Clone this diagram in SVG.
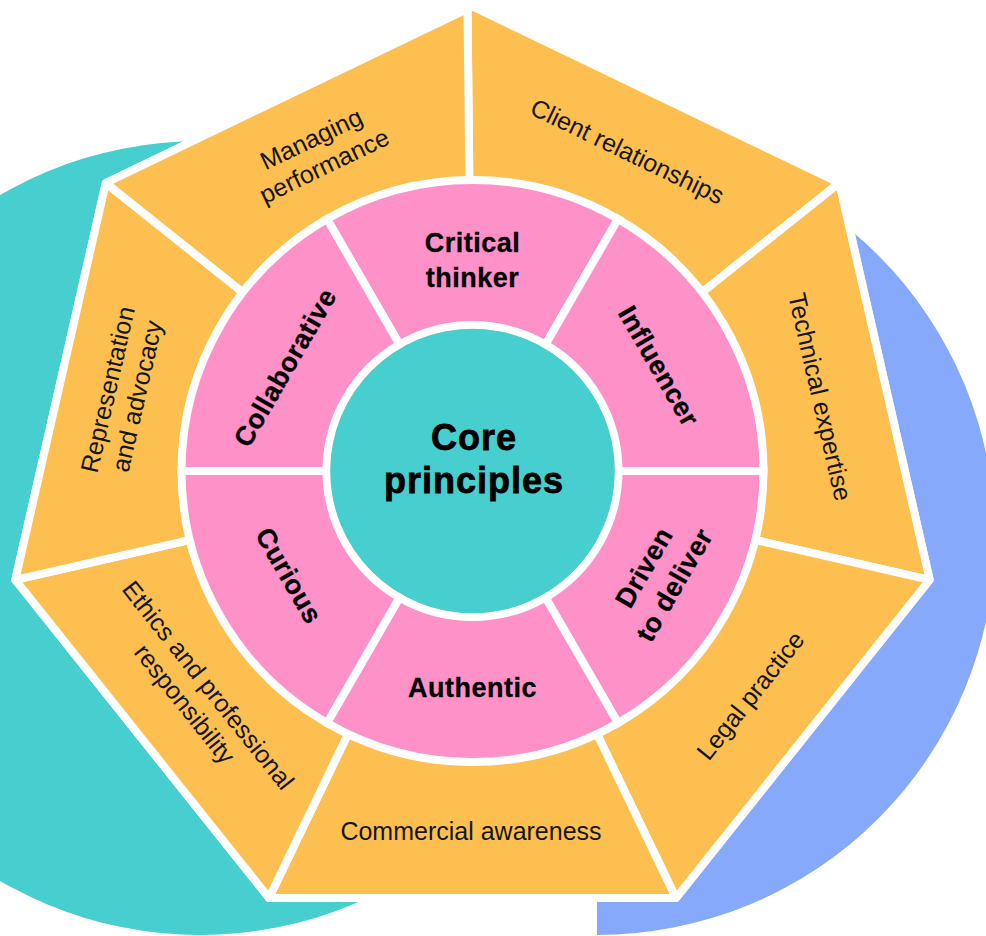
<svg xmlns="http://www.w3.org/2000/svg" width="986" height="936" viewBox="0 0 986 936">
  <style>
    .seg { fill: #FDBF50; stroke: #ffffff; stroke-width: 8; stroke-linejoin: miter; stroke-miterlimit: 1.5; }
    .petal { fill: #FF91C9; stroke: #ffffff; stroke-width: 8; stroke-linejoin: miter; }
    .lbl { font-family: "Liberation Sans", Arial, sans-serif; font-size: 25px; fill: #161616; text-anchor: middle; }
    .bold { font-family: "Liberation Sans", Arial, sans-serif; font-weight: 700; font-size: 27px; fill: #000000; text-anchor: middle; letter-spacing: 0.5px; stroke: #000000; stroke-width: 0.3px; }
    .core { font-family: "Liberation Sans", Arial, sans-serif; font-weight: 700; font-size: 36px; fill: #000000; text-anchor: middle; letter-spacing: 1px; stroke: #000000; stroke-width: 0.8px; }
  </style>

  <!-- backdrop shapes -->
  <g id="backdrop">
    <circle cx="200" cy="538" r="397" fill="#47CFCF"/>
    <path d="M597,139 A398,398 0 0 1 597,935 Z" fill="#87A9FB"/>
  </g>

  <!-- white outline of the heptagon -->
  <polygon id="outline" points="472.5,6.4 839.2,183 929.7,579.8 676,898 269,898 15.3,579.8 105.8,183" fill="#ffffff" stroke="#ffffff" stroke-width="8" stroke-linejoin="miter"/>

  <!-- outer competency segments -->
  <g id="client-relationships">
    <polygon class="seg" points="472.5,475.4 467.5,8.8 472.5,6.4 839.2,183"/>
    <text class="lbl" transform="translate(627,152) rotate(25.71)" y="8">Client relationships</text>
  </g>
  <g id="technical-expertise">
    <polygon class="seg" points="472.5,475.4 839.2,183 929.7,579.8"/>
    <text class="lbl" transform="translate(819.5,397) rotate(77.14)" y="8">Technical expertise</text>
  </g>
  <g id="legal-practice">
    <polygon class="seg" points="472.5,475.4 929.7,579.8 676,898"/>
    <text class="lbl" transform="translate(751,696) rotate(-51.43)" y="8">Legal practice</text>
  </g>
  <g id="commercial-awareness">
    <polygon class="seg" points="472.5,475.4 676,898 269,898"/>
    <text class="lbl" x="471" y="840">Commercial awareness</text>
  </g>
  <g id="ethics">
    <polygon class="seg" points="472.5,475.4 269,898 15.3,579.8"/>
    <text class="lbl" transform="translate(196,695) rotate(51.43)"><tspan x="0" y="-7">Ethics and professional</tspan><tspan x="0" y="23">responsibility</tspan></text>
  </g>
  <g id="representation">
    <polygon class="seg" points="472.5,475.4 15.3,579.8 105.8,183"/>
    <text class="lbl" transform="translate(123,393) rotate(-77.14)"><tspan x="0" y="-7">Representation</tspan><tspan x="0" y="23">and advocacy</tspan></text>
  </g>
  <g id="managing-performance">
    <polygon class="seg" points="472.5,475.4 105.8,183 467.5,8.8"/>
    <text class="lbl" transform="translate(318,153) rotate(-25.71)"><tspan x="0" y="-7">Managing</tspan><tspan x="0" y="23">performance</tspan></text>
  </g>

  <!-- inner ring of behaviours -->
  <g id="critical-thinker">
    <path class="petal" d="M327,218.98 A291,291 0 0 1 618,218.98 L545.5,344.56 A146,146 0 0 0 399.5,344.56 Z"/>
    <text class="bold"><tspan x="472.5" y="252">Critical</tspan><tspan x="472.5" y="287">thinker</tspan></text>
  </g>
  <g id="influencer">
    <path class="petal" d="M618,218.98 A291,291 0 0 1 763.5,471 L618.5,471 A146,146 0 0 0 545.5,344.56 Z"/>
    <text class="bold" transform="translate(659,366) rotate(60)" y="9.5">Influencer</text>
  </g>
  <g id="driven-to-deliver">
    <path class="petal" d="M763.5,471 A291,291 0 0 1 618,723.02 L545.5,597.44 A146,146 0 0 0 618.5,471 Z"/>
    <text class="bold" transform="translate(659,576) rotate(-60)"><tspan x="0" y="-8">Driven</tspan><tspan x="0" y="27">to deliver</tspan></text>
  </g>
  <g id="authentic">
    <path class="petal" d="M618,723.02 A291,291 0 0 1 327,723.02 L399.5,597.44 A146,146 0 0 0 545.5,597.44 Z"/>
    <text class="bold" x="472.5" y="697">Authentic</text>
  </g>
  <g id="curious">
    <path class="petal" d="M327,723.02 A291,291 0 0 1 181.5,471 L326.5,471 A146,146 0 0 0 399.5,597.44 Z"/>
    <text class="bold" transform="translate(289,575.5) rotate(60)" y="9.5">Curious</text>
  </g>
  <g id="collaborative">
    <path class="petal" d="M181.5,471 A291,291 0 0 1 327,218.98 L399.5,344.56 A146,146 0 0 0 326.5,471 Z"/>
    <text class="bold" transform="translate(285,367.5) rotate(-60)" y="9.5">Collaborative</text>
  </g>

  <!-- centre -->
  <g id="core-principles">
    <circle cx="472.5" cy="471" r="142.3" fill="#47CFCF"/>
    <text class="core"><tspan x="474" y="450">Core</tspan><tspan x="474" y="493">principles</tspan></text>
  </g>
</svg>
